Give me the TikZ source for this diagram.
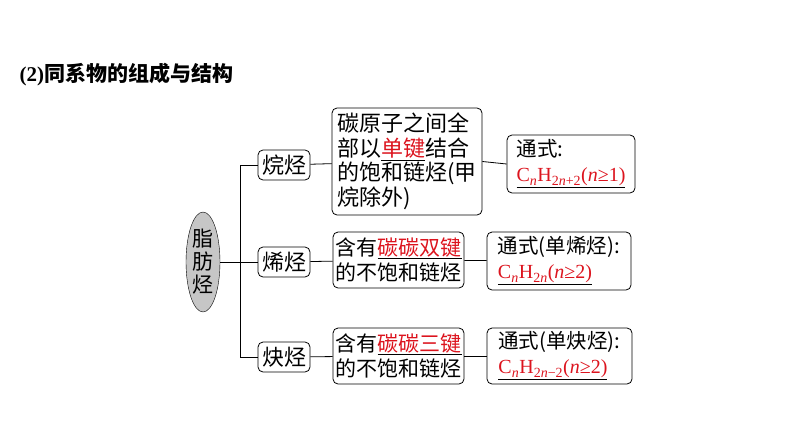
\documentclass[tikz,border=0pt]{standalone}
\usepackage{fontspec}
\setmainfont{Noto Sans CJK SC}
\newfontfamily\tm{Liberation Serif}
\usetikzlibrary{shapes.geometric}
\definecolor{myred}{RGB}{220,20,30}
\newcommand{\uline}[1]{\underline{\textcolor{myred}{#1}}}
\newcommand{\fml}[1]{{\tm\fontsize{20}{25}\selectfont\textcolor{myred}{#1}}}
\begin{document}
\begin{tikzpicture}[x=1pt,y=-1pt,
  box/.style={draw,thick,rounded corners=5pt,inner sep=1pt,font=\fontsize{22}{26}\selectfont,align=left},
  ln/.style={thick}]
\useasboundingbox (0,0) rectangle (794,447);
\node[anchor=west,font=\bfseries\fontsize{21}{24}\selectfont] (title) at (16,75) {{\tm(2)}同系物的组成与结构};
\node[ellipse,draw,fill=gray!45,minimum width=34,minimum height=100,inner sep=0,align=center,font=\fontsize{21}{23}\selectfont] (e) at (203,262) {脂\\肪\\烃};
\coordinate (t1) at (240,165); \coordinate (t2) at (240,262); \coordinate (t3) at (240,357);
\node[box,minimum width=52,minimum height=30] (a1) at (284,165) {烷烃};
\node[box,minimum width=52,minimum height=30] (a2) at (284,262) {烯烃};
\node[box,minimum width=52,minimum height=30] (a3) at (284,357) {炔烃};
\node[box,minimum width=150,minimum height=107,font=\fontsize{22}{24.5}\selectfont] (b1) at (407,161.5) {碳原子之间全\\部以\uline{单键}结合\\的饱和链烃(甲\\烷除外)};
\node[box,minimum width=131,minimum height=56,font=\fontsize{21}{25}\selectfont] (b2) at (398.5,260) {含有\uline{碳碳双键}\\的不饱和链烃};
\node[box,minimum width=131,minimum height=56,font=\fontsize{21}{25}\selectfont] (b3) at (398.5,356) {含有\uline{碳碳三键}\\的不饱和链烃};
\node[box,minimum width=128,minimum height=58,font=\fontsize{20.5}{25}\selectfont] (c1) at (571,164) {通式:\\\underline{\fml{C\textsubscript{\itshape n}H\textsubscript{2\itshape n\upshape+2}(\textit{n}≥1)}}};
\node[box,minimum width=144,minimum height=58,font=\fontsize{20.5}{25}\selectfont] (c2) at (559,261) {通式(单烯烃):\\\underline{\fml{C\textsubscript{\itshape n}H\textsubscript{2\itshape n}(\textit{n}≥2)}}};
\node[box,minimum width=145,minimum height=56,font=\fontsize{20.5}{25}\selectfont] (c3) at (559.5,356) {通式(单炔烃):\\\underline{\fml{C\textsubscript{\itshape n}H\textsubscript{2\itshape n\upshape−2}(\textit{n}≥2)}}};
\draw[ln] (e.east) -- (t2);
\draw[ln] (t1) -- (t3);
\draw[ln] (t1) -- (a1.west); \draw[ln] (t2) -- (a2.west); \draw[ln] (t3) -- (a3.west);
\draw[ln] (a1) -- (b1); \draw[ln] (a2) -- (b2); \draw[ln] (a3) -- (b3);
\draw[ln] (b1.east) -- (c1.west); \draw[ln] (b2) -- (c2); \draw[ln] (b3) -- (c3);
\end{tikzpicture}
\end{document}
